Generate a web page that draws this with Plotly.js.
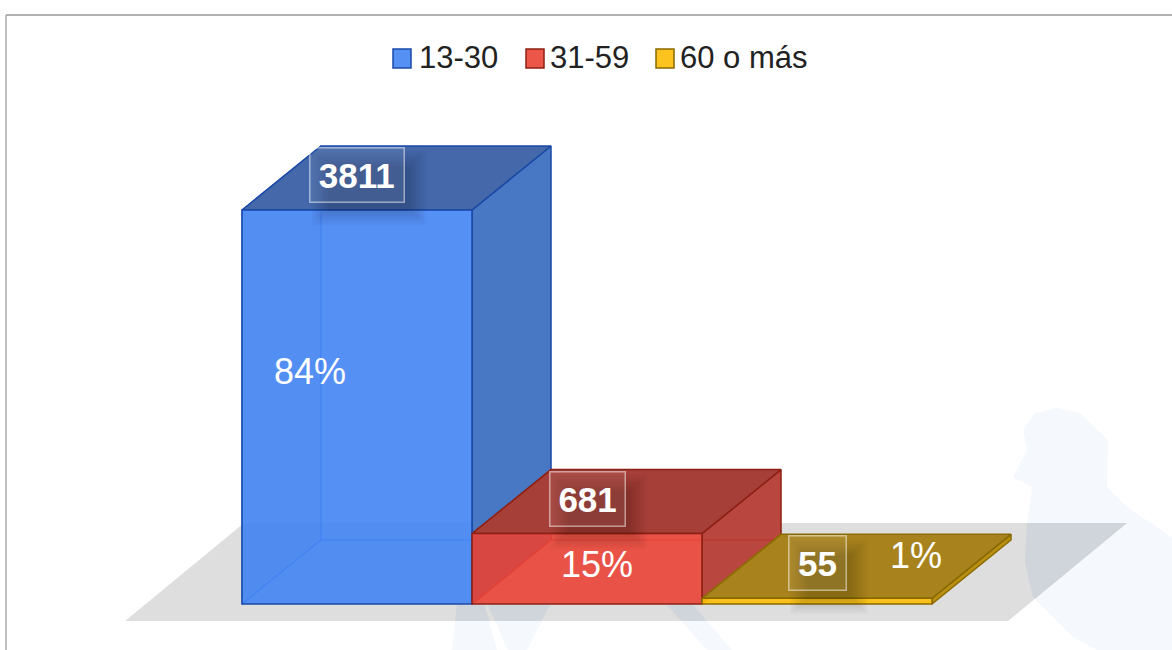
<!DOCTYPE html>
<html><head><meta charset="utf-8">
<script src="https://cdn.plot.ly/plotly-3.0.1.min.js"></script>
<style>html,body{margin:0;padding:0;background:#fff}#c{width:1172px;height:650px}</style>
</head><body><div id="c"></div>
<script>
const categories = ['13-30', '31-59', '60 o más'];
const values = [3811, 681, 55];
const percents = ['84%', '15%', '1%'];
const frontColors = ['rgba(66,132,244,0.9)', 'rgba(234,67,53,0.9)', 'rgba(251,188,5,0.9)'];
const topColors = ['#4468a9', '#a53f38', '#a8831d'];
const sideColors = ['#4878c4', '#b9473f', '#b88f12'];
const edgeColors = ['#1a4aa6', '#8c2014', '#8a6a00'];
const innerColors = ['#2f68d8', '#b9342a', '#a88000'];
const legendColors = ['#5590f5', '#ec5649', '#fcc31e'];

const W = 1172, H = 650;
const pxPerCat = 230, pxPerVal = 394 / 3811, zeroX = 357, zeroY = 604;
const depthX = 79 / pxPerCat, depthY = 64 / pxPerVal;
const xRange = [-zeroX / pxPerCat, (W - zeroX) / pxPerCat];
const yRange = [(zeroY - H) / pxPerVal, zeroY / pxPerVal];
const labelLift = 338;
const pctOffsetX = [-0.205, 0.043, 0.43];
const pctY = [2250, 380, 470];
const fontFam = '"Liberation Sans", Arial, sans-serif';
const px = x => x / W, py = y => 1 - y / H;

function poly(xs, ys, fill, line, w) {
  return {type: 'scatter', mode: 'lines', x: xs, y: ys, fill: fill ? 'toself' : 'none',
    fillcolor: fill || undefined, line: {color: line, width: w === undefined ? 1.5 : w},
    hoverinfo: 'skip', showlegend: false, xaxis: 'x', yaxis: 'y'};
}

const traces = [];
categories.forEach((c, i) => {
  const v = values[i], l = i - 0.5, r = i + 0.5;
  // hidden faces, seen through the translucent front
  traces.push(poly([l, l + depthX, l + depthX, l, l], [0, depthY, v + depthY, v, 0], 'rgba(0,0,0,0.09)', innerColors[i], 1.2));
  // right side and top
  traces.push(poly([r, r + depthX, r + depthX, r, r], [0, depthY, v + depthY, v, 0], sideColors[i], edgeColors[i]));
  traces.push(poly([l + depthX, r + depthX], [depthY, depthY], null, innerColors[i], 1.2));
  traces.push(poly([l, l + depthX, r + depthX, r, l], [v, v + depthY, v + depthY, v, v], topColors[i], edgeColors[i]));
  // front
  traces.push({type: 'bar', x: [i], y: [v], width: [1], name: c, xaxis: 'x2', yaxis: 'y2',
    marker: {color: frontColors[i], line: {color: edgeColors[i], width: 1.5}},
    hoverinfo: 'x+y', showlegend: false});
});

const path = pts => 'M' + pts.map(p => px(p[0]).toFixed(4) + ',' + py(p[1]).toFixed(4)).join('L') + 'Z';
const wm = {type: 'path', xref: 'paper', yref: 'paper', layer: 'below', fillcolor: 'rgba(170,200,232,0.12)', line: {width: 0}};
const wmFloor = {type: 'path', xref: 'paper', yref: 'paper', layer: 'below', fillcolor: 'rgba(120,150,180,0.09)', line: {width: 0}};
const shapes = [
  {type: 'path', xref: 'paper', yref: 'paper', layer: 'below', fillcolor: '#dedede', line: {width: 0},
    path: path([[125, 621], [244, 523], [1127, 523], [1008, 621]])},
  Object.assign({}, wm, {path: path([[1057, 408], [1035, 413], [1023, 430], [1027, 450], [1013, 477], [1032, 487], [1027, 523], [1025, 563], [1033, 597], [1073, 637], [1097, 650], [1172, 650], [1172, 537], [1127, 507], [1107, 487], [1108, 440], [1080, 413]])}),
  Object.assign({}, wm, {path: path([[457, 605], [452, 650], [497, 650], [484, 605]])}),
  Object.assign({}, wm, {path: path([[488, 605], [508, 650], [527, 650], [550, 605]])}),
  Object.assign({}, wm, {path: path([[667, 605], [693, 605], [732, 650], [707, 650]])}),
  Object.assign({}, wmFloor, {path: path([[1027, 523], [1127, 523], [1035, 599], [1033, 597], [1025, 563]])}),
  Object.assign({}, wmFloor, {path: path([[457, 605], [455, 621], [490, 621], [484, 605]])}),
  Object.assign({}, wmFloor, {path: path([[488, 605], [495, 621], [541, 621], [550, 605]])}),
  Object.assign({}, wmFloor, {path: path([[667, 605], [693, 605], [707, 621], [681, 621]])}),
  {type: 'line', xref: 'paper', yref: 'paper', x0: px(6), x1: 1, y0: py(15), y1: py(15), line: {color: '#999', width: 1.5}},
  {type: 'line', xref: 'paper', yref: 'paper', x0: px(6), x1: px(6), y0: py(15), y1: 0, line: {color: '#aaa', width: 1.5}}
];

// custom legend
const legendX = [393, 526, 656], legendTextX = [417, 548, 678];
const annotations = [];
categories.forEach((c, i) => {
  shapes.push({type: 'rect', xref: 'paper', yref: 'paper', x0: px(legendX[i]), x1: px(legendX[i] + 18), y0: py(49), y1: py(68),
    fillcolor: legendColors[i], line: {color: edgeColors[i], width: 1.5}});
  annotations.push({xref: 'paper', yref: 'paper', x: px(legendTextX[i]), y: py(58), xanchor: 'left', yanchor: 'middle',
    text: c, showarrow: false, font: {family: fontFam, size: 31, color: '#222'}});
  // data label box + soft shadow
  const textW = String(values[i]).length * 18.4, bw = textW + 21, bh = 55;
  const cx = zeroX + i * pxPerCat, cy = zeroY - (values[i] + labelLift) * pxPerVal;
  for (let k = 0; k < 8; k++) {
    const g = 10 - k * 2.4;
    shapes.push({type: 'rect', xref: 'paper', yref: 'paper', layer: 'above', line: {width: 0}, fillcolor: 'rgba(0,0,0,0.022)',
      x0: px(cx - bw / 2 + 12 - g), x1: px(cx + bw / 2 + 12 + g), y0: py(cy + bh / 2 + 13 + g), y1: py(cy - bh / 2 + 13 - g)});
  }
  annotations.push({xref: 'x', yref: 'y', x: i, y: values[i] + labelLift, text: '<b>' + values[i] + '</b>', showarrow: false,
    width: bw - 2, height: bh - 2, align: 'center', valign: 'middle',
    bgcolor: 'rgba(255,255,255,0.07)', bordercolor: 'rgba(255,255,255,0.5)', borderwidth: 1.5, borderpad: 0,
    font: {family: fontFam, size: 35, color: '#fff'}});
  annotations.push({xref: 'x', yref: 'y', x: i + pctOffsetX[i], y: pctY[i], text: percents[i], showarrow: false,
    font: {family: fontFam, size: 36, color: '#fff'}});
});

const hidden = {visible: false, fixedrange: true};
const layout = {
  width: W, height: H, margin: {l: 0, r: 0, t: 0, b: 0}, paper_bgcolor: '#fff', plot_bgcolor: 'rgba(0,0,0,0)',
  barmode: 'overlay', showlegend: false,
  xaxis: Object.assign({range: xRange}, hidden), yaxis: Object.assign({range: yRange}, hidden),
  xaxis2: Object.assign({range: xRange, overlaying: 'x'}, hidden), yaxis2: Object.assign({range: yRange, overlaying: 'y'}, hidden),
  shapes, annotations
};
Plotly.newPlot('c', traces, layout, {displayModeBar: false, responsive: false});
</script></body></html>
